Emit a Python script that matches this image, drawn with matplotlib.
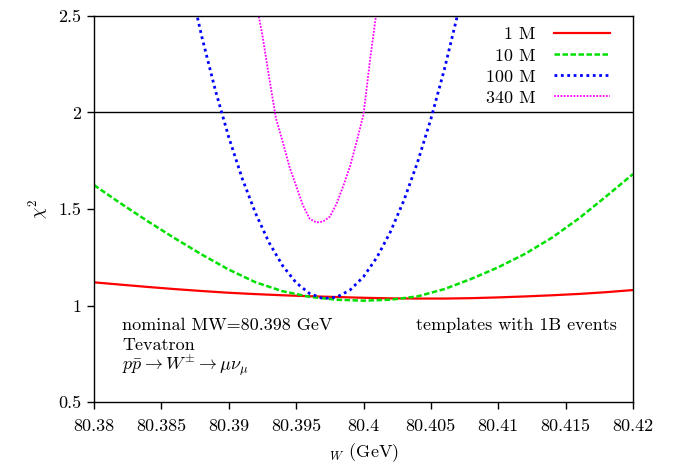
import matplotlib
matplotlib.use("Agg")
import matplotlib.pyplot as plt

plt.rcParams['font.family'] = ['cmr10', 'DejaVu Serif']
plt.rcParams['mathtext.fontset'] = 'cm'
plt.rcParams['axes.formatter.use_mathtext'] = True
plt.rcParams['axes.unicode_minus'] = False

# 1 M events
x_1m = [80.380, 80.382, 80.384, 80.386, 80.388, 80.390, 80.392, 80.394, 80.396, 80.398, 80.400,
        80.402, 80.404, 80.406, 80.408, 80.410, 80.412, 80.414, 80.416, 80.418, 80.420]
y_1m = [1.120, 1.108, 1.096, 1.085, 1.075, 1.066, 1.059, 1.053, 1.048, 1.044, 1.040,
        1.037, 1.036, 1.036, 1.038, 1.042, 1.047, 1.053, 1.060, 1.069, 1.080]

# 10 M events
x_10m = [80.380, 80.382, 80.384, 80.386, 80.388, 80.390, 80.392, 80.394, 80.396, 80.398, 80.400,
         80.402, 80.404, 80.406, 80.408, 80.410, 80.412, 80.414, 80.416, 80.418, 80.420]
y_10m = [1.624, 1.528, 1.436, 1.348, 1.264, 1.186, 1.120, 1.074, 1.045, 1.030, 1.025,
         1.030, 1.047, 1.085, 1.138, 1.198, 1.268, 1.352, 1.452, 1.565, 1.681]

# 100 M events
x_100m = [80.387, 80.388, 80.389, 80.390, 80.391, 80.392, 80.393, 80.394, 80.395, 80.396, 80.397,
          80.398, 80.399, 80.400, 80.401, 80.402, 80.403, 80.404, 80.405, 80.406, 80.407, 80.408]
y_100m = [2.701, 2.393, 2.117, 1.872, 1.658, 1.476, 1.325, 1.206, 1.118, 1.062, 1.036,
          1.043, 1.080, 1.149, 1.250, 1.382, 1.545, 1.740, 1.966, 2.223, 2.512, 2.832]

# 340 M events
x_340m = [80.3920, 80.3925, 80.3930, 80.3935, 80.3940, 80.3945, 80.3950, 80.3955, 80.3960, 80.3965,
          80.3970, 80.3975, 80.3980, 80.3985, 80.3990, 80.3995, 80.4000, 80.4005, 80.4010]
y_340m = [2.58, 2.40, 2.18, 1.97, 1.85, 1.72, 1.62, 1.52, 1.45, 1.43,
          1.435, 1.46, 1.527, 1.62, 1.72, 1.852, 1.99, 2.28, 2.54]

labels = ["1 M", "10 M", "100 M", "340 M"]
xticks = [80.38, 80.385, 80.39, 80.395, 80.4, 80.405, 80.41, 80.415, 80.42]
xtick_labels = ["80.38", "80.385", "80.39", "80.395", "80.4", "80.405", "80.41", "80.415", "80.42"]
yticks = [0.5, 1, 1.5, 2, 2.5]
ytick_labels = ["0.5", "1", "1.5", "2", "2.5"]

FS = 13

fig = plt.figure(figsize=(6.79, 4.65), dpi=100)
ax = fig.add_axes([94/679, 1-402/465, (633-94)/679, (402-16)/465])

ax.axhline(2.0, color='black', lw=1.0, zorder=1)
ax.plot(x_1m, y_1m, color='#ff0000', lw=1.6, ls='-', label=labels[0])
ax.plot(x_10m, y_10m, color='#00e000', lw=1.8, dashes=(2.2, 1.0), label=labels[1])
ax.plot(x_100m, y_100m, color='#0000ff', lw=2.0, dashes=(1.0, 1.3), label=labels[2])
ax.plot(x_340m, y_340m, color='#ff00ff', lw=1.3, dashes=(1.0, 0.8), label=labels[3])

ax.set_xlim(80.38, 80.42)
ax.set_ylim(0.5, 2.5)
ax.set_xticks(xticks)
ax.set_xticklabels(xtick_labels)
ax.set_yticks(yticks)
ax.set_yticklabels(ytick_labels)
ax.tick_params(axis='x', direction='out', length=5, width=1, labelsize=FS, pad=7)
ax.tick_params(axis='y', direction='out', length=5, width=1, labelsize=FS, pad=4)
for s in ax.spines.values():
    s.set_linewidth(1.0)

ax.set_xlabel(r'${}_{W}$ (GeV)', fontsize=FS, labelpad=5)
ax.set_ylabel(r'$\chi^2$', fontsize=FS, labelpad=5)

ax.text(80.38208, 0.899, 'nominal MW=80.398 GeV', fontsize=FS, va='center', ha='left')
ax.text(80.38208, 0.795, 'Tevatron', fontsize=FS, va='center', ha='left')
ax.text(80.38208, 0.692, r'$p\bar{p} \rightarrow W^{\pm} \rightarrow \mu\nu_{\mu}$', fontsize=FS, va='center', ha='left')
ax.text(80.41881, 0.899, 'templates with 1B events', fontsize=FS, va='center', ha='right')

leg = ax.legend(loc='upper right', frameon=False, markerfirst=False, fontsize=FS,
                handlelength=3.1, handletextpad=1.0, labelspacing=0.3,
                borderaxespad=0.2, bbox_to_anchor=(0.977, 1.0))

fig.savefig('out.png', dpi=100)
